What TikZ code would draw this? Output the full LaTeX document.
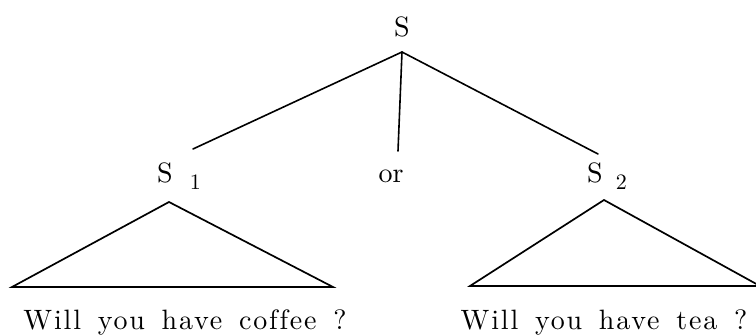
\documentclass[tikz,border=0pt]{standalone}
\usepackage{fontspec}
\setmainfont{lmroman10-regular.otf}
\newfontfamily\spacedfont{lmroman10-regular.otf}[LetterSpace=6.5,WordSpace=1.5,Ligatures=NoCommon]
\begin{document}
\begin{tikzpicture}[x=1pt,y=-1pt,
  lab/.style={inner sep=0pt,font=\fontsize{28}{30}\selectfont},
  sent/.style={inner sep=0pt,anchor=base,font=\spacedfont\fontsize{28}{30}\selectfont},
  branch/.style={line width=1.6pt,line cap=round},
  tri/.style={line width=1.7pt,line join=miter}]
\useasboundingbox (0,0) rectangle (756,336);
% labels
\node[lab,anchor=base] (S) at (402,37) {S};
\node[lab,anchor=base west] (S1) at (157,183) {S\hspace{17pt}\raisebox{-7pt}{\fontsize{22}{24}\selectfont 1}};
\node[lab,anchor=base] (or) at (391,183) {or};
\node[lab,anchor=base west] (S2) at (587,183) {S\hspace{13pt}\raisebox{-7pt}{\fontsize{22}{24}\selectfont 2}};
\node[sent] (t1) at (185,330) {Will you have coffee ?};
\node[sent] (t2) at (604,330) {Will you have tea ?};
% branch points
\coordinate (top) at (402,52);
\coordinate (l) at (193,149);
\coordinate (m) at (398,151);
\coordinate (r) at (598,154);
\draw[branch] (top) -- (l);
\draw[branch] (top) -- (m);
\draw[branch] (top) -- (r);
% triangles
\coordinate (a1) at (169,202);
\coordinate (b1l) at (12,287);
\coordinate (b1r) at (333,287);
\coordinate (a2) at (604,200);
\coordinate (b2l) at (470,286);
\coordinate (b2r) at (760,286);
\draw[tri] (a1) -- (b1l) -- (b1r) -- cycle;
\draw[tri] (a2) -- (b2l) -- (b2r) -- cycle;
\end{tikzpicture}
\end{document}
